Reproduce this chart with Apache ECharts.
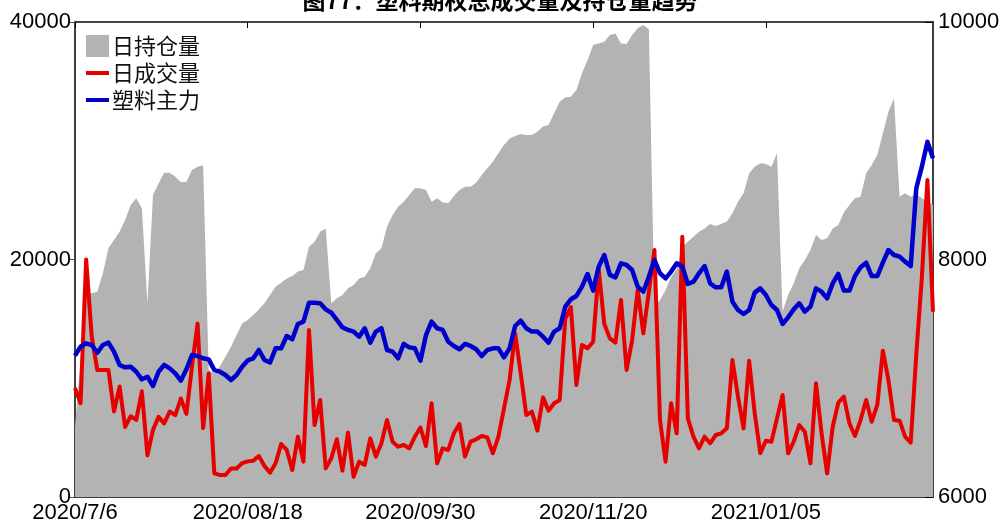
<!DOCTYPE html>
<html>
<head>
<meta charset="utf-8">
<script src="https://cdn.jsdelivr.net/npm/echarts@6/dist/echarts.min.js"></script>
<style>
  html, body { margin: 0; padding: 0; background: #fff; }
  #chart { width: 1000px; height: 524px; }
</style>
</head>
<body>
<div id="chart"></div>
<script>
// Trading days from 2020-07-06 to 2021-02-23 (exchange holidays removed)
const startDate = '2020-07-06';
const endDate = '2021-02-23';
const holidays = ['2020-10-01', '2020-10-02', '2020-10-05', '2020-10-06', '2020-10-07', '2020-10-08',
  '2021-01-01', '2021-02-11', '2021-02-12', '2021-02-15', '2021-02-16', '2021-02-17'];

// Labels shown under every 31st trading day
const tickLabels = ['2020/7/6', '2020/08/18', '2020/09/30', '2020/11/20', '2021/01/05'];

// 日持仓量 (left axis)
const openInterest = [
  5900, 11600, 17150, 17150, 17290, 18830, 20940, 21640, 22340, 23330,
  24590, 25150, 24310, 16300, 25430, 26410, 27310, 27310, 26970, 26500,
  26550, 27540, 27820, 27930, 10700, 10400, 10980, 11820, 12660, 13640,
  14620, 14900, 15330, 15800, 16310, 17010, 17710, 18050, 18410, 18610,
  18980, 19120, 21080, 21500, 22340, 22620, 16310, 16730, 17010, 17570,
  17850, 18410, 18550, 19260, 20520, 20940, 22760, 23750, 24450, 24870,
  25430, 25990, 25990, 25850, 24870, 25150, 24790, 24730, 25350, 25850,
  26130, 26130, 26470, 27120, 27680, 28240, 28940, 29640, 30200, 30400,
  30570, 30480, 30480, 30760, 31190, 31330, 32310, 33290, 33660, 33710,
  34270, 35680, 36800, 38060, 38200, 38340, 38900, 39040, 38200, 38140,
  38900, 39470, 39750, 39380, 16080, 16590, 17430, 18550, 19170, 21080,
  21500, 21920, 22340, 22620, 22990, 22820, 22990, 23190, 23890, 24870,
  25570, 27260, 27820, 28100, 28040, 27820, 28940, 15610, 17010, 18000,
  19260, 19960, 20800, 22060, 21640, 21780, 22620, 22900, 23950, 24590,
  25150, 25290, 27260, 27960, 28800, 30620, 32450, 33570, 25290, 25570,
  25290, 25500, 25150, 24870, 24590
];

// 日成交量 (left axis)
const volume = [
  9180, 7900, 20000, 13500, 10700, 10700, 10700, 7200, 9300, 5900,
  6800, 6500, 8900, 3500, 5650, 6750, 6200, 7200, 6900, 8300,
  7000, 11000, 14600, 5800, 10400, 2000, 1850, 1850, 2400, 2400,
  2850, 3000, 3060, 3450, 2610, 2050, 2835, 4460, 3960, 2270,
  5080, 2975, 14060, 6060, 8170, 2410, 3260, 4860, 2220, 5420,
  1710, 2975, 2695, 4940, 3400, 4520, 6480, 4660, 4240, 4380,
  4100, 5080, 5850, 4290, 7890, 2835, 4100, 3960, 5360, 6150,
  3400, 4660, 4860, 5140, 5020, 3680, 5080, 7470, 9850, 13780,
  10420, 6900, 7190, 5590, 8390, 7270, 7890, 8170, 15000, 16000,
  9430, 12800, 12520, 13080, 19170, 14570, 13360, 13000, 16590, 10700,
  13220, 17430, 13780, 17290, 20800, 6480, 2975, 7890, 5360, 21920,
  6620, 5080, 4100, 5080, 4520, 5220, 5360, 5780, 11540, 8450,
  5780, 11480, 7050, 3680, 4740, 4660, 6620, 8590, 3680, 4660,
  6060, 5500, 2835, 9570, 5360, 1990, 5920, 7940, 8450, 6200,
  5140, 6480, 8170, 6340, 7750, 12320, 9850, 6480, 6430, 5080,
  4580, 12000, 18500, 26700, 15600
];

// 塑料主力 (right axis)
const mainPrice = [
  7190, 7266, 7294, 7280, 7215, 7280, 7300, 7224, 7112, 7092,
  7097, 7055, 6991, 7013, 6935, 7055, 7112, 7083, 7041, 6980,
  7075, 7196, 7187, 7168, 7159, 7069, 7055, 7027, 6985, 7027,
  7097, 7150, 7168, 7238, 7154, 7132, 7252, 7252, 7356, 7328,
  7457, 7477, 7636, 7636, 7631, 7580, 7552, 7491, 7429, 7407,
  7393, 7350, 7421, 7300, 7393, 7421, 7238, 7224, 7168, 7289,
  7260, 7252, 7148, 7364, 7477, 7421, 7407, 7308, 7272, 7244,
  7289, 7272, 7244, 7187, 7238, 7252, 7252, 7176, 7252, 7440,
  7485, 7421, 7393, 7393, 7350, 7300, 7393, 7421, 7603, 7665,
  7693, 7771, 7878, 7738, 7940, 8038, 7870, 7850, 7968, 7954,
  7912, 7771, 7729, 7855, 7996, 7884, 7841, 7898, 7968, 7940,
  7794, 7813, 7884, 7945, 7799, 7766, 7766, 7898, 7645, 7575,
  7541, 7575, 7721, 7757, 7701, 7617, 7575, 7457, 7513, 7580,
  7631, 7561, 7603, 7757, 7729, 7673, 7799, 7878, 7738, 7738,
  7861, 7934, 7973, 7861, 7861, 7973, 8080, 8038, 8024, 7982,
  7945, 8600, 8782, 8992, 8852
];

function pad(n) { return n < 10 ? '0' + n : '' + n; }
function buildTradingDays(from, to, skip) {
  const out = [];
  const d = new Date(from + 'T00:00:00Z');
  const last = new Date(to + 'T00:00:00Z');
  while (d <= last) {
    const key = d.getUTCFullYear() + '-' + pad(d.getUTCMonth() + 1) + '-' + pad(d.getUTCDate());
    const wd = d.getUTCDay();
    if (wd !== 0 && wd !== 6 && skip.indexOf(key) < 0) out.push(key.replace(/-/g, '/'));
    d.setUTCDate(d.getUTCDate() + 1);
  }
  return out;
}
const dates = buildTradingDays(startDate, endDate, holidays);
const labelStep = 31;

const textFont = '"Liberation Sans", Arial, sans-serif';
const cjkFont = '"Noto Sans CJK SC", sans-serif';
const axisFontSize = 22;

const chart = echarts.init(document.getElementById('chart'), null, { renderer: 'canvas' });
chart.setOption({
  animation: false,
  backgroundColor: '#fff',
  title: {
    text: '图77：塑料期权总成交量及持仓量趋势',
    left: 'center',
    top: -16,
    textStyle: { fontFamily: cjkFont, fontSize: 23, fontWeight: 'bold', color: '#000' }
  },
  legend: {
    orient: 'vertical',
    left: 81,
    top: 30,
    itemGap: 5,
    itemWidth: 23,
    itemHeight: 22,
    textStyle: { fontFamily: cjkFont, fontSize: 22, lineHeight: 22, color: '#111', padding: [0, 0, 0, -2] },
    data: [
      { name: '日持仓量', icon: 'rect', itemStyle: { color: '#b3b3b3', borderWidth: 0 } },
      { name: '日成交量', icon: 'path://M0,0H23V4H0Z', itemStyle: { color: '#e60000', borderWidth: 0 } },
      { name: '塑料主力', icon: 'path://M0,0H23V4H0Z', itemStyle: { color: '#0000cc', borderWidth: 0 } }
    ]
  },
  grid: { left: 75, right: 67, top: 22, bottom: 27, containLabel: false, outerBoundsMode: 'none' },
  xAxis: [
    {
      type: 'category',
      data: dates,
      boundaryGap: false,
      axisLine: { lineStyle: { color: '#000', width: 1.5 } },
      axisTick: { inside: true, length: 6, interval: labelStep - 1, lineStyle: { color: '#000' } },
      axisLabel: {
        interval: labelStep - 1,
        showMinLabel: true,
        hideOverlap: false,
        margin: 5,
        fontFamily: textFont,
        fontSize: axisFontSize,
        color: '#000',
        formatter: (v, i) => (i % labelStep === 0 ? (tickLabels[i / labelStep] || '') : '')
      },
      splitLine: { show: false }
    },
    {
      type: 'category',
      data: dates,
      position: 'top',
      boundaryGap: false,
      axisLine: { lineStyle: { color: '#444', width: 2 } },
      axisTick: { inside: true, length: 6, interval: labelStep - 1, lineStyle: { color: '#000' } },
      axisLabel: { show: false },
      splitLine: { show: false }
    }
  ],
  yAxis: [
    {
      type: 'value',
      min: 0,
      max: 40000,
      interval: 20000,
      axisLine: { show: true, lineStyle: { color: '#000', width: 1.5 } },
      axisTick: { show: true, length: 5, lineStyle: { color: '#555' } },
      axisLabel: {
        margin: 4, fontFamily: textFont, fontSize: axisFontSize, color: '#000',
        formatter: v => String(v)
      },
      splitLine: { show: false }
    },
    {
      type: 'value',
      position: 'right',
      min: 6000,
      max: 10000,
      interval: 2000,
      axisLine: { show: true, lineStyle: { color: '#000', width: 1.5 } },
      axisTick: { show: true, inside: true, length: 8, lineStyle: { color: '#000' } },
      axisLabel: {
        margin: 5, fontFamily: textFont, fontSize: axisFontSize, color: '#000',
        formatter: v => String(v)
      },
      splitLine: { show: false }
    }
  ],
  series: [
    {
      name: '日持仓量',
      type: 'line',
      yAxisIndex: 0,
      data: openInterest,
      symbol: 'none',
      lineStyle: { width: 0, opacity: 0 },
      itemStyle: { color: '#b3b3b3' },
      areaStyle: { color: '#b3b3b3', opacity: 1 },
      z: 1
    },
    {
      name: '日成交量',
      type: 'line',
      yAxisIndex: 0,
      data: volume,
      symbol: 'none',
      itemStyle: { color: '#e60000' },
      lineStyle: { color: '#e60000', width: 4, join: 'round' },
      z: 3
    },
    {
      name: '塑料主力',
      type: 'line',
      yAxisIndex: 1,
      data: mainPrice,
      symbol: 'none',
      itemStyle: { color: '#0000cc' },
      lineStyle: { color: '#0000cc', width: 4.5, join: 'round' },
      z: 4
    }
  ]
});
</script>
</body>
</html>
